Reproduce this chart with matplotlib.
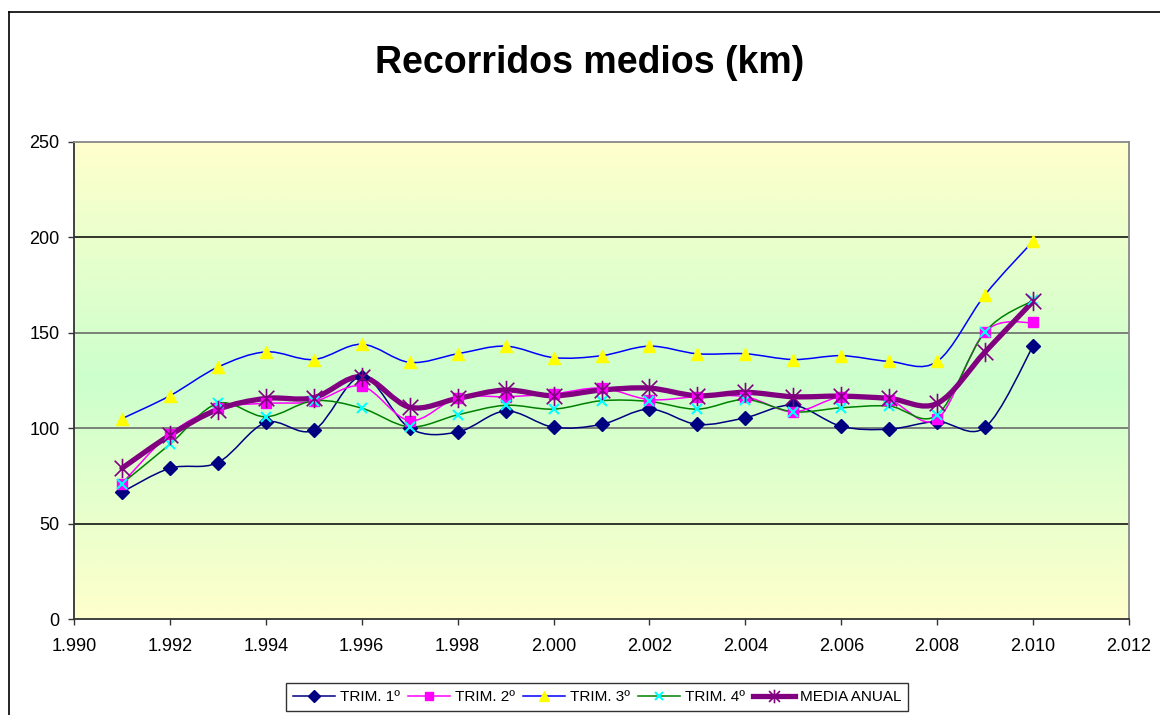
import numpy as np
import matplotlib
matplotlib.use("Agg")
import matplotlib.pyplot as plt
from matplotlib.path import Path
from matplotlib.patches import PathPatch
from matplotlib.lines import Line2D
from matplotlib.ticker import FuncFormatter, MultipleLocator

plt.rcParams['font.family'] = ['Liberation Sans', 'DejaVu Sans']

years = [1991, 1992, 1993, 1994, 1995, 1996, 1997, 1998, 1999, 2000,
         2001, 2002, 2003, 2004, 2005, 2006, 2007, 2008, 2009, 2010]
trim1 = [66.5, 79, 82, 103, 99, 127, 100, 98, 109, 100.5,
         102, 110, 102, 105.5, 112, 101, 99.5, 103.5, 100.5, 143]
trim2 = [71, 97, 110.5, 113, 114, 122, 104, 116, 116.5, 118,
         121, 115, 116.5, 116.5, 108.6, 116.5, 114.7, 104.7, 150.5, 155.4]
trim3 = [105, 117, 132, 140, 136, 144, 134.5, 139, 143, 137,
         138, 143, 139, 139, 136, 138, 135, 135, 170, 198]
trim4 = [71, 91.6, 113, 106, 114.4, 110.5, 100.7, 107, 112, 110,
         114.4, 114, 110, 115, 108.6, 110.7, 111.6, 107, 150.5, 167]
media = [79, 96.3, 109.8, 115.6, 116, 127, 111, 115.6, 120, 117,
         120, 121, 117, 118.8, 116.5, 116.8, 115.6, 113, 140, 166.5]
labels = ["TRIM. 1º", "TRIM. 2º", "TRIM. 3º", "TRIM. 4º", "MEDIA ANUAL"]
title = "Recorridos medios (km)"

star = Path([(0, -1), (0, 1), (-0.8, -0.8), (0.8, 0.8), (-0.8, 0.8), (0.8, -0.8)],
            [Path.MOVETO, Path.LINETO, Path.MOVETO, Path.LINETO, Path.MOVETO, Path.LINETO])

styles = [
    dict(lc='#000080', lw=1.1, marker='D', mfc='#000080', mec='#000080', ms=7, mew=1),
    dict(lc='#FF00FF', lw=1.1, marker='s', mfc='#FF00FF', mec='#FF00FF', ms=6.5, mew=1),
    dict(lc='#0000FF', lw=1.1, marker='^', mfc='#FFFF00', mec='#FFFF00', ms=8, mew=1),
    dict(lc='#008000', lw=1.1, marker='x', mfc='#00FFFF', mec='#00FFFF', ms=7, mew=1.5),
    dict(lc='#800080', lw=3.8, marker=star, mfc='none', mec='#800080', ms=14, mew=1.2),
]
series = [trim1, trim2, trim3, trim4, media]

W, H = 1160, 715
fig = plt.figure(figsize=(W / 100, H / 100), dpi=100)
fig.patch.set_facecolor('white')

L, R, T, B = 74, 1129, 142, 619
ax = fig.add_axes([L / W, 1 - B / H, (R - L) / W, (B - T) / H])
ax.set_xlim(1990, 2012)
ax.set_ylim(0, 250)

# background gradient (yellow - green - yellow)
yel = np.array([1.0, 1.0, 0.80])
grn = np.array([0.80, 1.0, 0.80])
t = np.linspace(0, 1, 256)[:, None]
w = 1 - np.abs(2 * t - 1)
grad = yel + (grn - yel) * w
ax.imshow(grad[:, None, :].repeat(2, axis=1), extent=[1990, 2012, 0, 250],
          aspect='auto', origin='lower', zorder=0, interpolation='bilinear')

# gridlines
for yv, c in [(50, '#000000'), (100, '#606060'), (150, '#606060'), (200, '#000000')]:
    ax.axhline(yv, color=c, lw=1.1, zorder=1)


def smooth_path(x, y):
    pts = np.column_stack([x, y]).astype(float)
    n = len(pts)
    verts = [pts[0]]
    codes = [Path.MOVETO]
    for i in range(n - 1):
        p0 = pts[i - 1] if i > 0 else pts[i]
        p1 = pts[i]
        p2 = pts[i + 1]
        p3 = pts[i + 2] if i + 2 < n else pts[i + 1]
        c1 = p1 + (p2 - p0) / 6.0
        c2 = p2 - (p3 - p1) / 6.0
        verts += [c1, c2, p2]
        codes += [Path.CURVE4] * 3
    return Path(verts, codes)


for s, st in zip(series, styles):
    patch = PathPatch(smooth_path(years, s), facecolor='none', edgecolor=st['lc'],
                      lw=st['lw'], zorder=2, capstyle='round', joinstyle='round')
    ax.add_patch(patch)

for s, st in zip(series, styles):
    ax.plot(years, s, linestyle='none', marker=st['marker'], mfc=st['mfc'],
            mec=st['mec'], ms=st['ms'], mew=st['mew'], zorder=3)

# axes styling
ax.xaxis.set_major_locator(MultipleLocator(2))
ax.yaxis.set_major_locator(MultipleLocator(50))
ax.xaxis.set_major_formatter(FuncFormatter(lambda v, p: f"{int(round(v)):,}".replace(',', '.')))
ax.yaxis.set_major_formatter(FuncFormatter(lambda v, p: f"{int(round(v))}"))
ax.tick_params(axis='x', direction='out', length=4, width=1, pad=10, labelsize=13, color='#333333')
ax.tick_params(axis='y', direction='out', length=4.5, width=1, pad=6, labelsize=13, color='#333333')
for side in ['left', 'bottom']:
    ax.spines[side].set_color('#333333')
    ax.spines[side].set_linewidth(1.3)
for side in ['top', 'right']:
    ax.spines[side].set_color('#888888')
    ax.spines[side].set_linewidth(1.3)

# title
fig.text(590 / W, 1 - 63 / H, title, ha='center', va='center',
         fontsize=27, fontweight='bold')

# outer frame (left and top edges visible)
fig.add_artist(Line2D([9 / W, 9 / W], [0, 1 - 12 / H], transform=fig.transFigure,
                      color='black', lw=1.2))
fig.add_artist(Line2D([9 / W, 1], [1 - 12 / H, 1 - 12 / H], transform=fig.transFigure,
                      color='black', lw=1.2))

# legend
handles = [Line2D([], [], color=st['lc'], lw=min(st['lw'], 1.3) if i < 4 else 3.8,
                  marker=st['marker'], mfc=st['mfc'], mec=st['mec'],
                  ms=st['ms'] * (0.9 if i < 4 else 0.7), mew=st['mew'])
           for i, st in enumerate(styles)]
leg = fig.legend(handles, labels, loc='center', bbox_to_anchor=(597 / W, 1 - 697 / H),
                 ncol=5, fontsize=11, frameon=True, fancybox=False,
                 edgecolor='black', handlelength=2.8, handletextpad=0.3,
                 columnspacing=0.5, borderpad=0.45, borderaxespad=0)
leg.get_frame().set_linewidth(1.0)

fig.savefig('out.png', dpi=100, facecolor='white')
